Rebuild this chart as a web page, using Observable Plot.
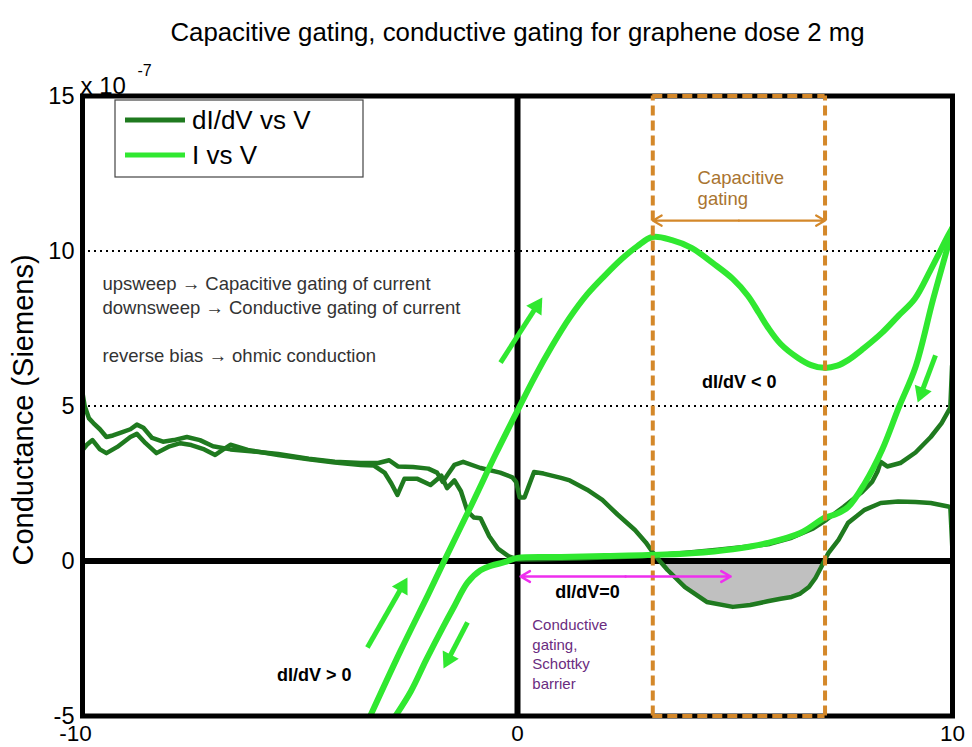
<!DOCTYPE html>
<html>
<head>
<meta charset="utf-8">
<script src="https://cdn.jsdelivr.net/npm/d3@7"></script>
<script src="https://cdn.jsdelivr.net/npm/@observablehq/plot@0.6"></script>
<style>
  html, body { margin: 0; padding: 0; background: #fff; }
  #chart { width: 972px; height: 747px; }
</style>
</head>
<body>
<div id="chart"></div>
<script>
// Conductance (dI/dV) branches, V in volts, G in units of 1e-7 S
const dIdV_A_V = [-10, -9.95, -9.85, -9.75, -9.6, -9.45, -9.3, -9.1, -8.9, -8.75, -8.6, -8.4, -8.15, -7.9, -7.6, -7.3, -7.0, -6.6, -6.2, -5.5, -4.8, -4.2, -3.6, -3.2, -2.95, -2.75, -2.4, -2.05, -1.85, -1.72, -1.6, -1.45, -1.25, -0.85, -0.4, -0.12, -0.03, 0.05, 0.16, 0.28, 0.38, 0.6, 1.0, 1.2, 1.6, 1.95, 2.3, 2.7, 2.95, 3.12, 3.27, 3.45, 3.85, 4.35, 4.95, 5.35, 5.75, 6.05, 6.3, 6.5, 6.7, 6.85, 6.98, 7.05, 7.15, 7.38, 7.6, 7.8, 7.98, 8.35, 8.75, 9.15, 9.5, 9.9, 9.95, 10];
const dIdV_A_G = [5.42, 5.0, 4.6, 4.45, 4.25, 4.0, 4.05, 4.15, 4.25, 4.4, 4.3, 3.97, 3.85, 3.9, 4.0, 3.9, 3.7, 3.6, 3.55, 3.45, 3.3, 3.2, 3.16, 3.16, 3.25, 3.05, 3.03, 2.98, 2.85, 2.55, 2.8, 3.1, 3.2, 3.0, 2.85, 2.7, 2.55, 2.05, 2.05, 2.5, 2.87, 2.82, 2.68, 2.6, 2.3, 1.97, 1.5, 1.0, 0.6, 0.26, 0.0, -0.29, -0.84, -1.32, -1.48, -1.42, -1.3, -1.22, -1.16, -1.05, -0.84, -0.55, -0.2, 0.0, 0.26, 0.68, 1.23, 1.45, 1.65, 1.87, 1.92, 1.9, 1.87, 1.76, 1.74, 0.3];

const dIdV_B_V = [-10, -9.9, -9.77, -9.6, -9.45, -9.2, -8.9, -8.75, -8.55, -8.3, -8.0, -7.75, -7.5, -7.2, -6.95, -6.6, -6.2, -5.5, -4.8, -4.2, -3.6, -3.3, -3.05, -2.9, -2.76, -2.6, -2.3, -2.0, -1.75, -1.62, -1.45, -1.3, -1.15, -1.0, -0.85, -0.65, -0.45, -0.2, 0.0, 0.5, 1.5, 2.5, 3.1, 4.0, 4.6, 5.2, 5.8, 6.3, 6.8, 7.1, 7.5, 7.9, 8.15, 8.28, 8.35, 8.5, 8.8, 9.15, 9.5, 9.75, 9.95, 9.99];
const dIdV_B_G = [3.58, 3.75, 3.9, 3.6, 3.48, 3.68, 4.0, 4.1, 3.8, 3.48, 3.7, 3.8, 3.74, 3.6, 3.42, 3.75, 3.58, 3.42, 3.28, 3.18, 3.1, 3.08, 2.84, 2.5, 2.13, 2.65, 2.65, 2.45, 2.75, 2.35, 2.6, 2.25, 1.6, 1.4, 1.38, 0.8, 0.4, 0.15, 0.05, 0.06, 0.09, 0.14, 0.18, 0.28, 0.36, 0.45, 0.55, 0.75, 1.05, 1.33, 1.75, 2.2, 2.55, 2.9, 3.2, 3.05, 3.16, 3.5, 4.0, 4.45, 4.95, 6.3];

// Current (I vs V) sweeps, same vertical units
const ivUp_V = [-3.45, -2.69, -2.06, -1.72, -1.06, -0.5, 0.0, 0.4, 0.8, 1.2, 1.6, 2.0, 2.4, 2.75, 3.1, 3.55, 4.0, 4.5, 4.95, 5.3, 5.55, 5.75, 6.05, 6.45, 6.75, 7.05, 7.35, 7.6, 7.95, 8.37, 8.75, 9.13, 9.5, 9.9, 10.0];
const ivUp_G = [-5.2, -2.9, -1.1, -0.1, 1.8, 3.45, 4.85, 5.95, 6.95, 7.85, 8.6, 9.2, 9.75, 10.15, 10.45, 10.35, 10.1, 9.6, 9.1, 8.55, 8.0, 7.55, 7.0, 6.55, 6.32, 6.23, 6.3, 6.48, 6.85, 7.35, 7.9, 8.45, 9.4, 10.5, 10.75];

const ivDown_V = [10.0, 9.95, 9.55, 9.15, 8.77, 8.38, 7.98, 7.6, 7.3, 7.07, 6.5, 5.75, 4.95, 4.0, 3.0, 2.0, 1.0, 0.0, -0.3, -0.6, -0.85, -1.15, -1.45, -1.7, -2.1, -2.45, -2.9];
const ivDown_G = [10.75, 10.45, 8.42, 6.26, 4.97, 3.58, 2.5, 1.74, 1.5, 1.4, 0.9, 0.58, 0.38, 0.25, 0.19, 0.16, 0.13, 0.1, -0.04, -0.15, -0.3, -0.7, -1.45, -2.1, -3.19, -4.2, -5.2];

// Capacitive gating window (bounded by the I-V maximum and minimum)
const gatingBounds = [3.11, 7.07];

// Axis ticks and dotted reference levels
const xTicksNeg = [-10];
const xTicksPos = [0, 10];
const yTicks = [-5, 0, 5, 10, 15];
const gridLevels = [5, 10];

// Labels
const titleText = "Capacitive gating, conductive gating for graphene dose 2 mg";
const yLabelText = "Conductance (Siemens)";
const exponentBase = "x 10";
const exponentPower = "-7";
const legendLabels = ["dI/dV vs V", "I vs V"];

// Sweep-direction arrows along the I-V loop
const sweepArrows = [
  {x1: -0.39, y1: 6.4, x2: 0.57, y2: 8.5},
  {x1: -3.45, y1: -2.79, x2: -2.53, y2: -0.53},
  {x1: -1.15, y1: -1.98, x2: -1.7, y2: -3.47},
  {x1: 9.61, y1: 6.63, x2: 9.2, y2: 5.11}
];

// Plain notes on the left
const sideNotes = [
  {x: -9.54, y: 8.92, text: "upsweep \u2192 Capacitive gating of current"},
  {x: -9.54, y: 8.15, text: "downsweep \u2192 Conductive gating of current"},
  {x: -9.54, y: 6.6, text: "reverse bias \u2192 ohmic conduction"}
];
const signNotes = [
  {x: 5.1, y: 5.76, text: "dI/dV < 0"},
  {x: -4.67, y: -3.69, text: "dI/dV > 0"},
  {x: 1.61, y: -1.02, text: "dI/dV=0"}
];
const capacitiveNote = {x: 4.14, y: 12.03, text: "Capacitive\ngating", arrowY: 10.98};
const conductiveNote = {x: 0.34, y: -2.97, text: "Conductive\ngating,\nSchottky\nbarrier", arrowY: -0.5, arrowFrom: 0.07, arrowTo: 4.9};

const DARK = "#1f7a1f";
const LIGHT = "#30e830";
const ORANGE = "#d4882a";
const ORANGE_TEXT = "#a9742f";
const MAGENTA = "#ee2fee";
const PURPLE = "#6a2c80";
const FONT = "'Liberation Sans', Arial, sans-serif";

const MARGIN = {left: 82, right: 20, top: 95.5, bottom: 31.5};
const WIDTH = 972, HEIGHT = 747;
const xDomain = [-10, 10], yDomain = [-5, 15];

const zip = (xs, ys) => xs.map((v, i) => ({V: v, G: ys[i]}));
const branchA = zip(dIdV_A_V, dIdV_A_G);
const branchB = zip(dIdV_B_V, dIdV_B_G);
const ivUp = zip(ivUp_V, ivUp_G);
const ivDown = zip(ivDown_V, ivDown_G);
const dip = branchA.filter(d => d.V >= 3.27 && d.V <= 7.05);

const capMid = (gatingBounds[0] + gatingBounds[1]) / 2;
const capArrows = [
  {x1: capMid, x2: gatingBounds[0], y: capacitiveNote.arrowY},
  {x1: capMid, x2: gatingBounds[1], y: capacitiveNote.arrowY}
];
const condMid = (conductiveNote.arrowFrom + conductiveNote.arrowTo) / 2;
const condArrows = [
  {x1: condMid, x2: conductiveNote.arrowFrom, y: conductiveNote.arrowY},
  {x1: condMid, x2: conductiveNote.arrowTo, y: conductiveNote.arrowY}
];

// Filled arrowheads: shafts stop at the head base, triangles rotated along the shaft
const sx = Plot.scale({x: {domain: xDomain, range: [MARGIN.left, WIDTH - MARGIN.right]}});
const sy = Plot.scale({y: {domain: yDomain, range: [HEIGHT - MARGIN.bottom, MARGIN.top]}});
const HEAD_R = 6.7;                 // symbol radius of the head triangle
const TIP = HEAD_R * 1.55;          // centroid-to-tip distance in px
const BASE = HEAD_R * 2.0;          // tip-to-shaft-end distance in px
const shafts = [], heads = [];
for (const a of sweepArrows) {
  const px1 = sx.apply(a.x1), py1 = sy.apply(a.y1);
  const px2 = sx.apply(a.x2), py2 = sy.apply(a.y2);
  const len = Math.hypot(px2 - px1, py2 - py1);
  const ux = (px2 - px1) / len, uy = (py2 - py1) / len;
  shafts.push({x1: a.x1, y1: a.y1, x2: sx.invert(px2 - ux * BASE), y2: sy.invert(py2 - uy * BASE)});
  heads.push({x: sx.invert(px2 - ux * TIP), y: sy.invert(py2 - uy * TIP), angle: Math.atan2(ux, -uy) * 180 / Math.PI});
}

const plot = Plot.plot({
  width: WIDTH,
  height: HEIGHT,
  marginLeft: MARGIN.left,
  marginRight: MARGIN.right,
  marginTop: MARGIN.top,
  marginBottom: MARGIN.bottom,
  x: {domain: xDomain},
  y: {domain: yDomain},
  style: {fontFamily: FONT, background: "#fff", color: "#000", overflow: "visible"},
  marks: [
    Plot.ruleY(gridLevels, {stroke: "#000", strokeWidth: 2, strokeDasharray: "2,4"}),
    Plot.areaY(dip, {x: "V", y1: 0, y2: d => Math.min(0, d.G), fill: "#c0c0c0"}),
    Plot.ruleX([0], {stroke: "#000", strokeWidth: 6}),
    Plot.ruleY([0], {stroke: "#000", strokeWidth: 6}),
    Plot.line(branchA, {x: "V", y: "G", stroke: DARK, strokeWidth: 4.5, clip: true}),
    Plot.line(branchB, {x: "V", y: "G", stroke: DARK, strokeWidth: 4.5, clip: true}),
    Plot.line(ivUp, {x: "V", y: "G", stroke: LIGHT, strokeWidth: 6, curve: "catmull-rom", clip: true}),
    Plot.line(ivDown, {x: "V", y: "G", stroke: LIGHT, strokeWidth: 6, curve: "catmull-rom", clip: true}),
    Plot.frame({stroke: "#000", strokeWidth: 5}),
    Plot.ruleX(gatingBounds, {y1: -5, y2: 15, stroke: ORANGE, strokeWidth: 4, strokeDasharray: "10,5"}),
    Plot.ruleY([15, -5], {x1: gatingBounds[0], x2: gatingBounds[1], stroke: ORANGE, strokeWidth: 4, strokeDasharray: "10,5"}),
    Plot.arrow(capArrows, {x1: "x1", x2: "x2", y1: "y", y2: "y", stroke: ORANGE, strokeWidth: 2.2, headLength: 7, headAngle: 60}),
    Plot.arrow(condArrows, {x1: "x1", x2: "x2", y1: "y", y2: "y", stroke: MAGENTA, strokeWidth: 2.5, headLength: 6.5, headAngle: 60}),
    Plot.link(shafts, {x1: "x1", y1: "y1", x2: "x2", y2: "y2", stroke: LIGHT, strokeWidth: 5}),
    Plot.dot(heads, {x: "x", y: "y", symbol: "triangle", r: HEAD_R, rotate: "angle", fill: LIGHT, stroke: "none"}),
    Plot.text(sideNotes, {x: "x", y: "y", text: "text", textAnchor: "start", fontSize: 18.5, fill: "#333"}),
    Plot.text(signNotes, {x: "x", y: "y", text: "text", fontSize: 18, fontWeight: "bold", fill: "#000"}),
    Plot.text([capacitiveNote], {x: "x", y: "y", text: "text", textAnchor: "start", fontSize: 18.5, lineHeight: 1.14, fill: ORANGE_TEXT}),
    Plot.text([conductiveNote], {x: "x", y: "y", text: "text", textAnchor: "start", fontSize: 15, lineHeight: 1.31, fill: PURPLE}),
    Plot.axisY(yTicks, {tickSize: 0, tickPadding: 8, fontSize: 23.5, tickFormat: d => String(d), label: null}),
    Plot.axisX(xTicksNeg, {tickSize: 0, tickPadding: 9, fontSize: 22.5, dx: -7, tickFormat: d => String(d), label: null}),
    Plot.axisX(xTicksPos, {tickSize: 0, tickPadding: 9, fontSize: 22.5, tickFormat: d => String(d), label: null}),
    Plot.text([titleText], {text: d => d, frameAnchor: "top", textAnchor: "middle", dy: -73.5, fontSize: 25.8, fill: "#000"}),
    Plot.text([yLabelText], {text: d => d, frameAnchor: "left", textAnchor: "middle", rotate: -90, dx: -59, dy: 4, fontSize: 29, fill: "#000"}),
    Plot.text([exponentBase], {text: d => d, frameAnchor: "top-left", textAnchor: "start", dx: -2, dy: -19, fontSize: 24, fill: "#000"}),
    Plot.text([exponentPower], {text: d => d, frameAnchor: "top-left", textAnchor: "start", dx: 55, dy: -31, fontSize: 16, fill: "#000"})
  ]
});

// Legend box in the upper-left corner of the axes
const legendColors = [DARK, LIGHT];
const svg = d3.select(plot);
const lg = svg.append("g").attr("transform", "translate(115,100)");
lg.append("rect").attr("width", 248).attr("height", 77)
  .attr("fill", "#fff").attr("stroke", "#444").attr("stroke-width", 1.2);
legendLabels.forEach((label, i) => {
  const cy = 20 + i * 35;
  lg.append("line").attr("x1", 10).attr("x2", 70).attr("y1", cy).attr("y2", cy)
    .attr("stroke", legendColors[i]).attr("stroke-width", 5);
  lg.append("text").attr("x", 77).attr("y", cy).attr("dy", "0.35em")
    .attr("text-anchor", "start")
    .attr("font-family", FONT).attr("font-size", 26).attr("fill", "#000").text(label);
});

document.getElementById("chart").appendChild(plot);
</script>
</body>
</html>
